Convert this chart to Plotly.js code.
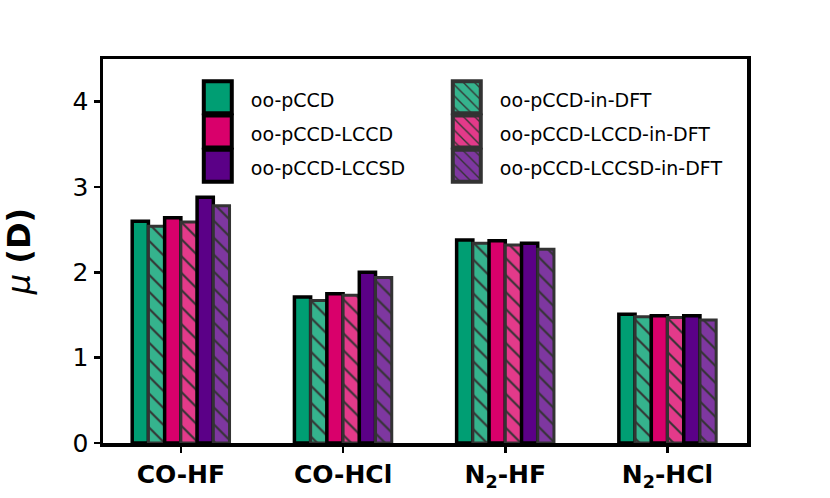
<!DOCTYPE html>
<html>
<head>
<meta charset="utf-8">
<script src="https://cdn.plot.ly/plotly-3.0.1.min.js"></script>
<style>body{margin:0;padding:0;background:#fff;} #chart{width:830px;height:498px;}</style>
</head>
<body>
<div id="chart"></div>
<script>
const categories = ["<b>CO-HF</b>", "<b>CO-HCl</b>", "<b>N<sub>2</sub>-HF</b>", "<b>N<sub>2</sub>-HCl</b>"];
const seriesNames = ["oo-pCCD", "oo-pCCD-in-DFT", "oo-pCCD-LCCD", "oo-pCCD-LCCD-in-DFT", "oo-pCCD-LCCSD", "oo-pCCD-LCCSD-in-DFT"];
const ooPCCD = [2.60, 1.71, 2.38, 1.51];
const ooPCCDinDFT = [2.54, 1.67, 2.34, 1.48];
const ooPCCDLCCD = [2.64, 1.75, 2.37, 1.49];
const ooPCCDLCCDinDFT = [2.59, 1.73, 2.32, 1.47];
const ooPCCDLCCSD = [2.88, 2.00, 2.34, 1.49];
const ooPCCDLCCSDinDFT = [2.78, 1.94, 2.27, 1.44];
const yTicks = [0, 1, 2, 3, 4];

const seriesValues = [ooPCCD, ooPCCDinDFT, ooPCCDLCCD, ooPCCDLCCDinDFT, ooPCCDLCCSD, ooPCCDLCCSDinDFT];
const colors = ["#009E73", "#35B38D", "#D9006B", "#E33A8A", "#5B0087", "#7E37A0"];
const hatched = [false, true, false, true, false, true];

const traces = seriesValues.map((vals, i) => {
  const t = {
    type: "bar",
    name: '<span style="font-size:19px">' + seriesNames[i] + '</span>',
    x: categories,
    y: vals,
    marker: {
      color: colors[i],
      line: {color: hatched[i] ? "#333333" : "#000000", width: hatched[i] ? 3 : 3.5}
    }
  };
  if (hatched[i]) {
    t.marker.pattern = {shape: "\\", fgcolor: "#333333", bgcolor: colors[i], fillmode: "replace", size: 12, solidity: 0.17};
  }
  return t;
});

const layout = {
  width: 830,
  height: 498,
  margin: {l: 103, r: 83, t: 59, b: 55},
  paper_bgcolor: "#ffffff",
  plot_bgcolor: "#ffffff",
  font: {family: "DejaVu Sans", color: "#000000"},
  barmode: "group",
  bargap: 0.4,
  bargroupgap: 0,
  showlegend: true,
  legend: {
    orientation: "h",
    x: 0.127, y: 0.958, xanchor: "left", yanchor: "top",
    entrywidth: 178,
    font: {size: 24, family: "DejaVu Sans"},
    bgcolor: "rgba(0,0,0,0)",
    itemwidth: 56
  },
  xaxis: {
    type: "category",
    range: [-0.48, 3.49],
    showline: true, linecolor: "#000", linewidth: 3.5, mirror: true,
    ticks: "outside", ticklen: 6, tickwidth: 2.5, tickcolor: "#000",
    tickfont: {size: 25, family: "DejaVu Sans"},
    showgrid: false, zeroline: false
  },
  yaxis: {
    range: [0, 4.5],
    tickvals: yTicks,
    ticktext: yTicks.map(String),
    showline: true, linecolor: "#000", linewidth: 3.5, mirror: true,
    ticks: "outside", ticklen: 6, tickwidth: 2.5, tickcolor: "#000",
    tickfont: {size: 25, family: "DejaVu Sans"},
    showgrid: false, zeroline: false,
    title: {text: "<i>μ</i> <b>(D)</b>", font: {size: 32, family: "DejaVu Sans"}, standoff: 40}
  }
};

Plotly.newPlot("chart", traces, layout, {displayModeBar: false, staticPlot: true}).then(gd => {
  // enlarge legend swatches to match the big stacked squares of the reference
  const items = gd.querySelectorAll(".legend .traces");
  items.forEach((item, i) => {
    item.querySelectorAll(".legendpoints path").forEach(p => {
      p.setAttribute("d", "M14,16H-14V-16H14Z");
      p.style.strokeWidth = "4px";
      p.style.stroke = hatched[i] ? "#333333" : "#000000";
    });
  });
  // let the longer second-column labels show in full
  gd.querySelectorAll(".legend [clip-path]").forEach(e => e.removeAttribute("clip-path"));
});
</script>
</body>
</html>
